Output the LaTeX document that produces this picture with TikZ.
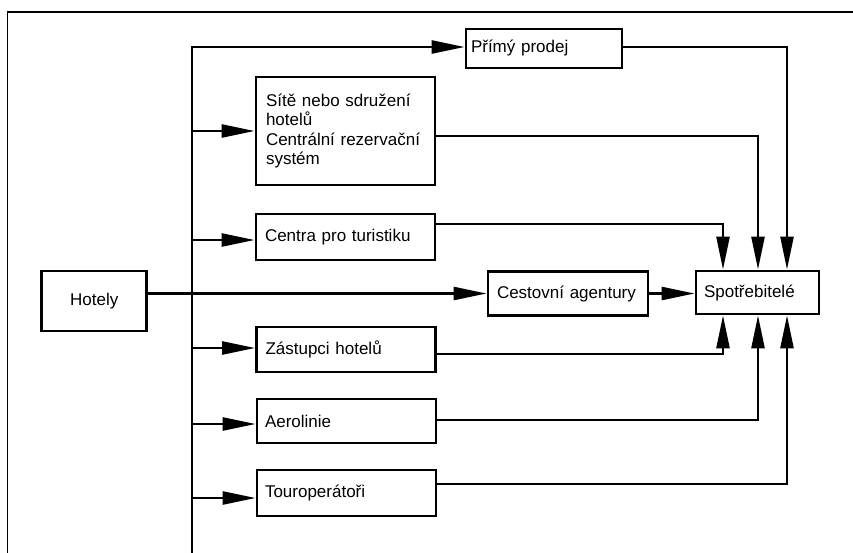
\documentclass[tikz,border=0pt]{standalone}
\usepackage{fontspec}
\setmainfont{Liberation Sans}
\usetikzlibrary{arrows.meta}
\newcommand\boxfont{\fontsize{17pt}{19.5pt}\selectfont}
\tikzset{
  box/.style={draw, line width=2.8pt, inner xsep=9pt, inner ysep=0pt, align=left, font=\boxfont},
  conn/.style={line width=2.5pt},
  arr/.style={conn, -{Triangle[length=33pt,width=13pt]}},
  frame/.style={line width=1.5pt},
}
\begin{document}
\begin{tikzpicture}[x=1pt, y=-1pt]
  \clip (0,0) rectangle (853,552);
  \fill[white] (0,0) rectangle (853,552);
  % outer frame (runs past the right and bottom edges)
  \draw[frame] (7.5,12) rectangle (900,600);

  % boxes
  \node[box, minimum width=156pt, minimum height=39pt, text width=146pt, inner xsep=5pt] (primy) at (544,48.5) {Přímý prodej};
  \node[box, minimum width=179pt, minimum height=108pt, text width=159pt, inner xsep=10pt] (site) at (345.5,131)
    {Sítě nebo sdružení\\hotelů\\Centrální rezervační\\systém};
  \node[box, minimum width=179pt, minimum height=46pt, text width=161pt] (centra) at (345.5,237) {Centra pro turistiku};
  \node[box, minimum width=179pt, minimum height=45pt, text width=161pt] (zast) at (346,349.5) {Zástupci hotelů};
  \node[box, minimum width=179pt, minimum height=44pt, text width=163pt, inner xsep=8pt] (aero) at (346.5,421) {Aerolinie};
  \node[box, minimum width=179pt, minimum height=46pt, text width=163pt, inner xsep=8pt] (tour) at (346.5,493) {Touroperátoři};
  \node[box, minimum width=105pt, minimum height=60pt, align=center] (hotely) at (94.3,301) {Hotely};
  \node[box, minimum width=160pt, minimum height=44pt, text width=142pt] (cest) at (568,293.5) {Cestovní agentury};
  \node[box, minimum width=123pt, minimum height=43pt, text width=107pt, inner xsep=8pt] (spot) at (757.5,292.5) {Spotřebitelé};

  % distribution bus
  \coordinate (bustop) at (192,47);
  \coordinate (busbot) at (192,560);
  \coordinate (b1) at (192,131);
  \coordinate (b2) at (192,240);
  \coordinate (b3) at (192,348);
  \coordinate (b4) at (192,424);
  \coordinate (b5) at (192,498);
  \draw[arr] (busbot) -- (bustop) -- (primy.west |- bustop);
  \draw[arr] (b1) -- (site.west |- b1);
  \draw[arr] (b2) -- (centra.west |- b2);
  \draw[arr] (b3) -- (zast.west |- b3);
  \draw[arr] (b4) -- (aero.west |- b4);
  \draw[arr] (b5) -- (tour.west |- b5);

  % direct chain through the travel agencies
  \draw[arr] (hotely.east |- cest.west) -- (cest.west);
  \draw[arr] (cest.east) -- (spot.west |- cest.east);

  % channels arriving at the consumers from above
  \draw[arr] ([yshift=1.5pt]primy.east) -| ([xshift=29.5pt]spot.north);
  \draw[arr] ([yshift=-5pt]site.east) -| ([xshift=0.5pt]spot.north);
  \draw[arr] ([yshift=13pt]centra.east) -| ([xshift=-34.5pt]spot.north);

  % channels arriving at the consumers from below
  \draw[arr] ([yshift=-4.5pt]zast.east) -| ([xshift=-34.5pt]spot.south);
  \draw[arr] ([yshift=1pt]aero.east) -| ([xshift=0.5pt]spot.south);
  \draw[arr] ([yshift=9pt]tour.east) -| ([xshift=29.5pt]spot.south);
\end{tikzpicture}
\end{document}
